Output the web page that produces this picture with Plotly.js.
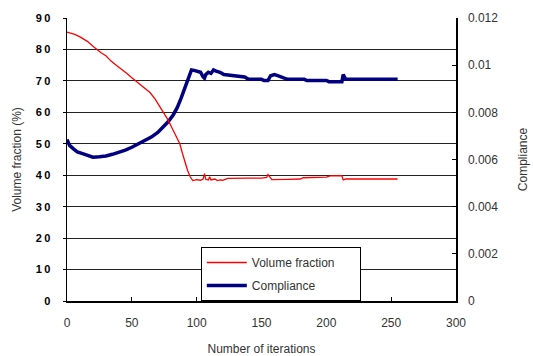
<!DOCTYPE html>
<html>
<head>
<meta charset="utf-8">
<script src="https://cdn.plot.ly/plotly-3.0.1.min.js"></script>
<style>html,body{margin:0;padding:0;background:#fff;}#chart{width:533px;height:356px;}</style>
</head>
<body>
<div id="chart"></div>
<script>
// Volume fraction (%) vs iteration
const volIter = [0,3,6,10,13,16,20,23,26,30,34,38,42,46,50,53,56,60,64,68,72,75,78,81,84,87,89,91,93,95,96,97,100,103,105,106,107,109,110,111,114,116,118,120,124,130,140,150,154,155,157,158,170,180,182,195,200,203,208,210,212,213,215,255];
const volValues = [85.5,85.2,84.8,84.0,83.2,82.5,81.0,80.0,79.0,78.0,76.3,75.0,73.8,72.4,71.0,70.0,69.0,67.8,66.3,64.2,61.5,59.8,57.5,55.0,52.5,50.0,47.0,44.0,41.5,39.5,38.8,38.3,38.6,38.4,38.8,40.5,38.7,38.5,39.5,38.5,38.8,38.3,38.5,38.4,39.0,39.1,39.1,39.1,39.3,40.2,39.0,38.6,38.7,38.8,39.2,39.2,39.4,39.8,39.8,40.0,39.9,38.5,38.8,38.8];
// Compliance vs iteration
const compIter = [0,2,5,8,12,16,20,25,30,35,40,45,50,55,60,65,70,74,78,82,85,88,90,92,94,95,96,98,100,103,105,106,107,109,111,113,115,118,121,125,130,137,140,150,152,155,157,160,163,166,170,183,185,200,202,212,213,215,255];
const compValues = [0.00685,0.0066,0.00645,0.00632,0.00625,0.00617,0.0061,0.00612,0.00615,0.00622,0.0063,0.0064,0.00652,0.00665,0.00678,0.00695,0.00715,0.00735,0.0076,0.0079,0.0082,0.0086,0.0089,0.0092,0.0095,0.0097,0.0098,0.00978,0.00975,0.0097,0.0095,0.00945,0.0096,0.0097,0.00965,0.0098,0.00975,0.0097,0.0096,0.00958,0.00955,0.0095,0.0094,0.0094,0.00935,0.00935,0.00955,0.0096,0.00955,0.0095,0.0094,0.0094,0.00935,0.00935,0.0093,0.0093,0.0096,0.0094,0.0094];
// Axis ticks
const xTicks = [0,50,100,150,200,250,300];
const volTicks = [0,10,20,30,40,50,60,70,80,90];
const volTickText = ['0','1\u20090','2\u20090','3\u20090','4\u20090','5\u20090','6\u20090','7\u20090','8\u20090','9\u20090'];
const compTicks = [0,0.002,0.004,0.006,0.008,0.01,0.012];
const compTickText = ['0','0.002','0.004','0.006','0.008','0.01','0.012'];

const FONT = 'Liberation Sans, Arial, sans-serif';
const PAD = '\u00a0\u00a0\u00a0\u00a0\u00a0\u00a0';

const traces = [
  {
    x: compIter, y: compValues, name: 'Compliance', type: 'scatter', mode: 'lines',
    yaxis: 'y', legendrank: 2, legendgroup: 'c',
    line: {color: '#000080', width: 3.5}
  },
  {
    x: volIter, y: volValues, name: 'Volume fraction' + PAD, type: 'scatter', mode: 'lines',
    yaxis: 'y2', legendrank: 1, legendgroup: 'v',
    line: {color: '#ff0000', width: 1.3}
  }
];

const layout = {
  width: 533, height: 356,
  margin: {l: 67, r: 77, t: 18, b: 55, pad: 0},
  paper_bgcolor: '#fff', plot_bgcolor: '#fff',
  font: {family: FONT, size: 12, color: '#333'},
  showlegend: true,
  legend: {
    x: 0.344, y: 0.0, xanchor: 'left', yanchor: 'bottom',
    bgcolor: '#fff', bordercolor: '#000', borderwidth: 1,
    font: {family: FONT, size: 12, color: '#333'},
    itemwidth: 40, tracegroupgap: 4
  },
  xaxis: {
    range: [0, 300], tickvals: xTicks, ticktext: xTicks.map(String),
    showgrid: false, zeroline: false,
    showline: true, linecolor: '#000', linewidth: 1.5,
    ticks: 'inside', ticklen: 4, tickcolor: '#000',
    tickfont: {family: FONT, size: 12, color: '#333'},
    ticklabelstandoff: 10,
    title: {text: 'Number of iterations', font: {family: FONT, size: 12, color: '#333'}, standoff: 18},
    automargin: false
  },
  yaxis: {
    side: 'right', range: [0, 0.012], tickvals: compTicks, ticktext: compTickText,
    showgrid: false, zeroline: false,
    showline: true, linecolor: '#000', linewidth: 1.5,
    ticks: 'inside', ticklen: 4, tickcolor: '#000',
    tickfont: {family: FONT, size: 12, color: '#333'},
    ticklabelstandoff: 8,
    title: {text: 'Compliance', font: {family: FONT, size: 12, color: '#333'}, standoff: 21},
    automargin: false
  },
  yaxis2: {
    side: 'left', overlaying: 'y', range: [0, 90], tickvals: volTicks, ticktext: volTickText,
    showgrid: true, gridcolor: '#222', gridwidth: 1,
    zeroline: false,
    showline: true, linecolor: '#000', linewidth: 1.5,
    ticks: 'outside', ticklen: 3, tickcolor: '#000',
    tickfont: {family: FONT, size: 11, color: '#000', weight: 'bold'},
    ticklabelstandoff: 10,
    title: {text: 'Volume fraction (%)', font: {family: FONT, size: 12, color: '#333'}, standoff: 11},
    automargin: false
  }
};

Plotly.newPlot('chart', traces, layout, {staticPlot: true, displayModeBar: false});
</script>
</body>
</html>
